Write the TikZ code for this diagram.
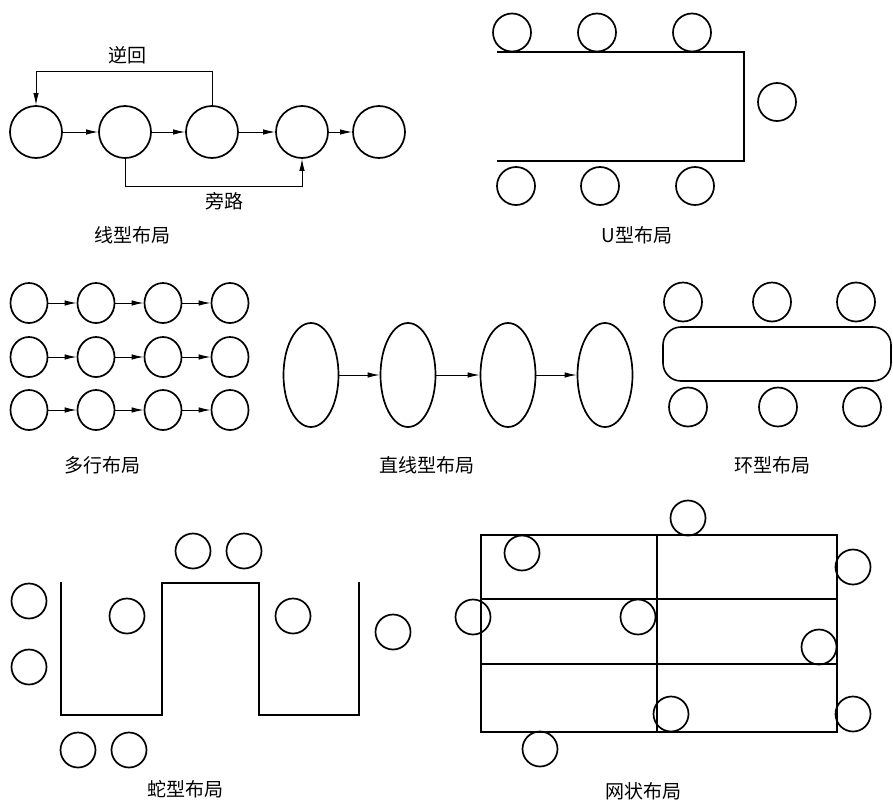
\documentclass[tikz,border=0pt]{standalone}
\usepackage{fontspec}
\setmainfont{Noto Sans CJK SC}
\usetikzlibrary{shapes.geometric,arrows.meta}
\begin{document}
\begin{tikzpicture}[x=1pt,y=-1pt,
  stn/.style={circle,draw,line width=1.7pt,inner sep=0pt,minimum size=#1},
  ovl/.style 2 args={ellipse,draw,line width=1.7pt,inner sep=0pt,minimum width=#1,minimum height=#2},
  arr/.style={-{Latex[length=12pt,width=5.5pt]},line width=1pt},
  wall/.style={line width=1.6pt},
  lab/.style={font=\fontsize{19}{19}\selectfont,inner sep=0pt}]
\useasboundingbox (0,0) rectangle (893,803);

% ---------- linear layout ----------
\foreach \i/\x in {1/36,2/125,3/212,4/302,5/379} \node[stn=52pt] (L\i) at (\x,132) {};
\foreach \a/\b in {1/2,2/3,3/4,4/5} \draw[arr] (L\a) -- (L\b);
\coordinate (topy) at (0,71);
\coordinate (boty) at (0,186);
\draw[arr] (L3.north) -- (L3.north |- topy) -| (L1.north);
\draw[arr] (L2.south) -- (L2.south |- boty) -| (L4.south);
\node[lab] (tback) at (127,55) {逆回};
\node[lab] (tbyp) at (224,201) {旁路};
\node[lab] (tlin) at (132,235) {线型布局};

% ---------- U layout ----------
\draw[wall] (497,52) -- (744,52) -- (744,161) -- (497,161);
\foreach \i/\x in {1/512,2/597,3/692} \node[stn=38pt] (UT\i) at (\x,32.5) {};
\foreach \i/\x in {1/516,2/600,3/695} \node[stn=38pt] (UB\i) at (\x,186) {};
\node[stn=38pt] (UR) at (777,102) {};
\node[lab] (tu) at (637,235) {U型布局};

% ---------- multi-row layout ----------
\foreach \r/\y in {1/303,2/357,3/410}{
  \foreach \c/\x in {1/29,2/96,3/163,4/230} \node[ovl={37pt}{40pt}] (M\r\c) at (\x,\y) {};
  \foreach \a/\b in {1/2,2/3,3/4} \draw[arr] (M\r\a) -- (M\r\b);
}
\node[lab] (tmr) at (102,465) {多行布局};

% ---------- straight line layout ----------
\foreach \i/\x in {1/311,2/408,3/508,4/605} \node[ovl={55pt}{104pt}] (S\i) at (\x,375) {};
\foreach \a/\b in {1/2,2/3,3/4} \draw[arr] (S\a) -- (S\b);
\node[lab] (tsl) at (427,465) {直线型布局};

% ---------- ring layout ----------
\draw[wall,rounded corners=18pt] (663,327) rectangle (891,381);
\foreach \i/\x in {1/683,2/772,3/856} \node[ovl={38pt}{39pt}] (RT\i) at (\x,302) {};
\foreach \i/\x in {1/688,2/778,3/862} \node[ovl={38pt}{39pt}] (RB\i) at (\x,407) {};
\node[lab] (tring) at (772,465) {环型布局};

% ---------- snake layout ----------
\draw[wall] (61,582) -- (61,715) -- (162,715) -- (162,583) -- (259,583) -- (259,715) -- (359,715) -- (359,582);
\foreach \n/\x/\y in {a/193/551,b/244/551,c/29/601,d/29/667,e/127/616,f/293/616,g/393/632,h/78/750,i/129/750}
  \node[stn=35pt] (SN\n) at (\x,\y) {};
\node[lab] (tsnake) at (185,789) {蛇型布局};

% ---------- net layout ----------
\draw[wall] (481,535) rectangle (837,732);
\draw[wall] (657,535) -- (657,732);
\draw[wall] (481,599) -- (837,599);
\draw[wall] (481,664) -- (837,664);
\foreach \n/\x/\y in {a/688/518,b/522/553,c/853/567,d/473/617,e/638/617,f/819/647,g/671/714,h/853/714,i/540/749}
  \node[stn=35pt] (N\n) at (\x,\y) {};
\node[lab] (tnet) at (643,791) {网状布局};
\end{tikzpicture}
\end{document}
